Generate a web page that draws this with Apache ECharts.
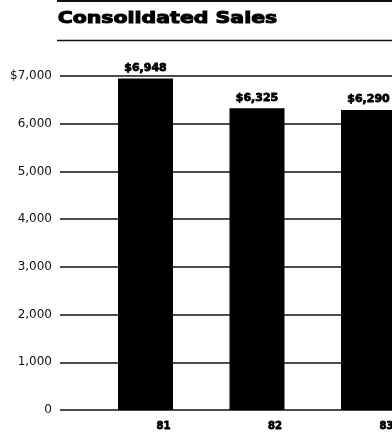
<!DOCTYPE html>
<html>
<head>
<meta charset="utf-8">
<script src="https://cdn.jsdelivr.net/npm/echarts@6/dist/echarts.min.js"></script>
<style>
  html, body { margin: 0; padding: 0; background: #fff; }
  #chart { width: 392px; height: 432px; }
</style>
</head>
<body>
<div id="chart"></div>
<script>
// Fiscal years and consolidated sales (in thousands of dollars)
const years = ['81', '82', '83'];
const sales = [6948, 6325, 6290];
const yTicks = [0, 1000, 2000, 3000, 4000, 5000, 6000, 7000];
const yMax = 7000;
const yStep = 1000;

const fmt = v => v.toLocaleString('en-US');

const chart = echarts.init(document.getElementById('chart'), null, { renderer: 'canvas' });

const gridTop = 76;
const gridBottom = 22;

chart.setOption({
  backgroundColor: '#ffffff',
  animation: false,
  graphic: [
    // rules above and below the heading
    { type: 'line', shape: { x1: 57, y1: 1, x2: 392, y2: 1 }, style: { stroke: '#111', lineWidth: 2 } },
    { type: 'line', shape: { x1: 57, y1: 40.5, x2: 392, y2: 40.5 }, style: { stroke: '#111', lineWidth: 1.5 } },
    {
      type: 'text', left: 57, top: 10, scaleX: 1.28,
      style: {
        text: 'Consolidated Sales',
        font: 'bold 16px "DejaVu Sans"',
        fill: '#000', stroke: '#000', lineWidth: 1
      }
    }
  ],
  grid: [
    // grid carrying the value scale and its rules
    { left: 60, right: 0, top: gridTop, bottom: gridBottom, outerBoundsMode: 'none' },
    // grid carrying the bars: one year per tick, first tick at the left edge
    { left: 145.5, width: 223, top: gridTop, bottom: gridBottom, outerBoundsMode: 'none' }
  ],
  xAxis: [
    { gridIndex: 0, type: 'category', data: years, show: false },
    {
      gridIndex: 1, type: 'category', data: years, boundaryGap: false,
      axisLine: { show: false }, axisTick: { show: false },
      axisLabel: {
        margin: 11,
        padding: [0, 0, 0, 36],
        fontFamily: 'DejaVu Sans', fontWeight: 'bold', fontSize: 10, color: '#000',
        textBorderColor: '#000', textBorderWidth: 0.8
      }
    }
  ],
  yAxis: [
    {
      gridIndex: 0, type: 'value', min: 0, max: yMax, interval: yStep,
      axisLine: { show: false }, axisTick: { show: false },
      axisLabel: {
        margin: 8,
        fontFamily: 'DejaVu Sans', fontSize: 12, color: '#111',
        formatter: v => (yTicks.includes(v) ? (v === yMax ? '$' + fmt(v) : fmt(v)) : '')
      },
      splitLine: { show: true, lineStyle: { color: '#111', width: 1.5 } }
    },
    {
      gridIndex: 1, type: 'value', min: 0, max: yMax, interval: yStep,
      show: false, splitLine: { show: false }
    }
  ],
  series: [
    {
      type: 'bar',
      xAxisIndex: 1, yAxisIndex: 1,
      data: sales,
      barWidth: 55,
      clip: false,
      itemStyle: { color: '#000' },
      label: {
        show: true, position: 'top', distance: 5,
        fontFamily: 'DejaVu Sans', fontWeight: 'bold', fontSize: 11, color: '#000',
        textBorderColor: '#000', textBorderWidth: 0.8,
        formatter: p => '$' + fmt(p.value)
      }
    }
  ]
});
</script>
</body>
</html>
